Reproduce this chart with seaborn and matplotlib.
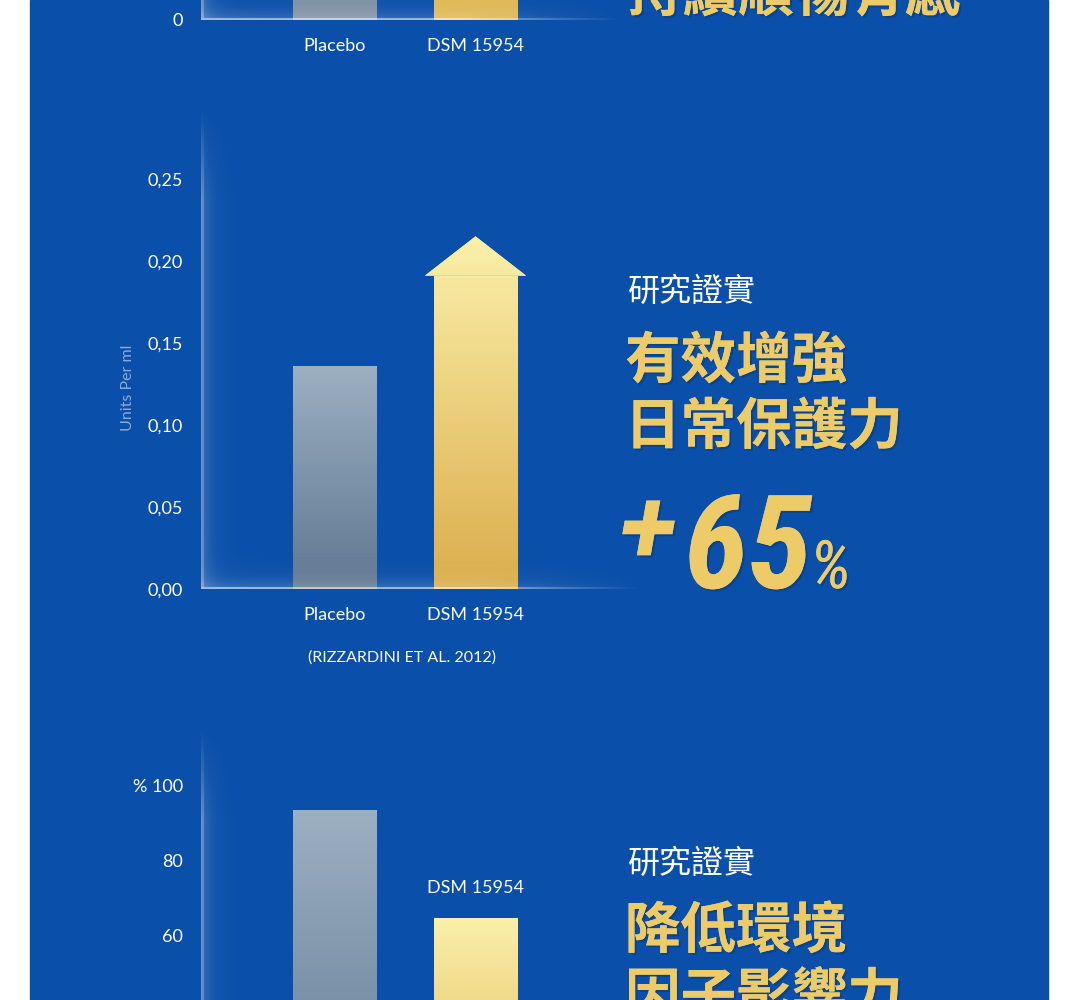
import numpy as np
import matplotlib.pyplot as plt
import seaborn as sns
from matplotlib.colors import LinearSegmentedColormap
from matplotlib.patches import Rectangle, Polygon
from matplotlib import patheffects

sns.set_style("white")
plt.rcParams['font.family'] = ['Lato', 'Noto Sans CJK TC', 'DejaVu Sans']

# ---- data ----
groups = ['Placebo', 'DSM 15954']
top_values = [1.6, 1.8]            # top chart: bars run past the top edge of the crop
mid_values = [0.136, 0.191]        # units per ml (DSM bar = arrow shaft)
mid_arrow_tip = 0.215
mid_ticks = [0.00, 0.05, 0.10, 0.15, 0.20, 0.25]
bottom_values = [93.3, 64.5]       # %
bottom_ticks = [60, 80, 100]       # lower ticks fall below the crop
bottom_tick_labels = ['60', '80', '% 100']

top_heading = '持續順暢有感'
kicker = '研究證實'
mid_heading = ['有效增強', '日常保護力']
mid_gain = '65'
bottom_heading = ['降低環境', '因子影響力']
citation = '(RIZZARDINI ET AL. 2012)'
mid_ylabel = 'Units Per ml'

# ---- look ----
W, H = 1080, 1000
BLUE = '#0a4fa9'
GOLD = '#edcb68'
gray_cmap = LinearSegmentedColormap.from_list('gray_bar', ['#5e7891', '#9dafc2'])
gold_cmap = LinearSegmentedColormap.from_list('gold_bar', ['#dbad4c', '#fbf0aa'])
# the top chart only shows the foot of much taller bars
gray_foot = LinearSegmentedColormap.from_list('gray_foot', ['#8090a4', '#93a3b6'])
gold_foot = LinearSegmentedColormap.from_list('gold_foot', ['#e0b756', '#ecd27c'])
gold_shadow = [patheffects.withSimplePatchShadow(offset=(1.5, -1.5), shadow_rgbFace='#052a66', alpha=0.35),
               patheffects.Normal()]
CJK = ['Noto Sans CJK TC', 'DejaVu Sans']
NARROW = ['Roboto Condensed', 'DejaVu Sans Condensed', 'Roboto', 'DejaVu Sans']

fig = plt.figure(figsize=(W / 100, H / 100), dpi=100)
fig.patch.set_facecolor('white')
fig.add_artist(Rectangle((30 / W, 0), 1018 / W, 1, transform=fig.transFigure,
                         color=BLUE, zorder=-10))


def px_axes(left, top, right, bottom):
    ax = fig.add_axes([left / W, 1 - bottom / H, (right - left) / W, (bottom - top) / H])
    ax.set_facecolor('none')
    return ax


# bar centres at x=334.5 and 475.5 px, 141 px apart
def x_limits(left, right):
    return (-(334.5 - left) / 141, (right - 334.5) / 141)


def fill_gradient(ax, patch, cmap, y_top=None, x_span=None):
    if x_span is None:
        x_span = (patch.get_x(), patch.get_x() + patch.get_width())
    if y_top is None:
        y_top = patch.get_y() + patch.get_height()
    grad = np.linspace(0, 1, 256).reshape(-1, 1)
    im = ax.imshow(grad, cmap=cmap, extent=[x_span[0], x_span[1], 0, y_top],
                   origin='lower', aspect='auto', interpolation='bicubic',
                   zorder=patch.get_zorder() + 0.1)
    im.set_clip_path(patch)


def glow(ax, fade_top=90, fade_right=170):
    bb = ax.get_window_extent()
    w, h = int(bb.width), int(bb.height)
    xx = np.arange(w)[None, :].astype(float)
    yy = np.arange(h)[:, None].astype(float)
    v = np.clip((h - yy) / fade_top, 0, 1)
    u = np.clip((w - xx) / fade_right, 0, 1)
    a = 0.20 * np.exp(-xx / 10) * v + 0.20 * np.exp(-yy / 9) * u
    a += 0.18 * (xx < 3) * v + 0.40 * (yy < 2) * u
    rgba = np.ones((h, w, 4))
    rgba[..., 3] = np.clip(a, 0, 0.6)
    ax.imshow(rgba, extent=[0, 1, 0, 1], transform=ax.transAxes, origin='lower',
              aspect='auto', interpolation='bilinear', zorder=4)


def style_axes(ax):
    sns.despine(ax=ax, left=True, bottom=True)
    ax.tick_params(axis='both', length=0, pad=13, labelsize=13, labelcolor='white')
    ax.set_xlabel('')
    ax.set_ylabel('')


def bars(ax, values, cmaps=(gray_cmap, gold_cmap)):
    sns.barplot(x=groups, y=values, hue=groups, palette=['#5e7891', '#dbad4c'],
                width=0.59, saturation=1, legend=False, linewidth=0, ax=ax)
    for patch, cmap in zip(ax.patches, cmaps):
        fill_gradient(ax, patch, cmap)


# ---- top chart (only its base is inside the crop) ----
ax1 = px_axes(201, -400, 620, 20)
bars(ax1, top_values, cmaps=(gray_foot, gold_foot))
style_axes(ax1)
ax1.set_yticks([0])
ax1.set_yticklabels(['0'])
glow(ax1)
ax1.set_xlim(*x_limits(201, 620))
ax1.set_ylim(0, 2)

# ---- middle chart ----
ax2 = px_axes(201, 110, 640, 589)
bars(ax2, mid_values)
shaft = ax2.patches[1]
sx0, sw = shaft.get_x(), shaft.get_width()
head_pad = 0.064
head = Polygon([(sx0 - head_pad, mid_values[1]), (sx0 + sw / 2, mid_arrow_tip),
                (sx0 + sw + head_pad, mid_values[1])], closed=True,
               facecolor='#fbf0aa', linewidth=0, zorder=shaft.get_zorder())
ax2.add_patch(head)
# re-fill the shaft and head with one gradient running up to the arrow tip
fill_gradient(ax2, shaft, gold_cmap, y_top=mid_arrow_tip,
              x_span=(sx0 - head_pad, sx0 + sw + head_pad))
fill_gradient(ax2, head, gold_cmap, y_top=mid_arrow_tip,
              x_span=(sx0 - head_pad, sx0 + sw + head_pad))
style_axes(ax2)
ax2.set_yticks(mid_ticks)
ax2.set_yticklabels([f'{t:.2f}'.replace('.', ',') for t in mid_ticks])
glow(ax2)
ax2.set_xlim(*x_limits(201, 640))
ax2.set_ylim(0, 0.292)

fig.text(128 / W, 1 - 388 / H, mid_ylabel, rotation=90, color='#8eaad4',
         fontsize=11.5, ha='center', va='center')
fig.text(402 / W, 1 - 658 / H, citation, color='white', fontsize=11.5,
         ha='center', va='center')

# ---- bottom chart (runs off the bottom edge) ----
ax3 = px_axes(201, 730, 640, 1160)
bars(ax3, bottom_values)
style_axes(ax3)
ax3.set_yticks(bottom_ticks)
ax3.set_yticklabels(bottom_tick_labels)
ax3.tick_params(axis='x', labelbottom=False)
ax3.text(1, bottom_values[1] + 8, groups[1], color='white', fontsize=13,
         ha='center', va='center')
glow(ax3)
ax3.set_xlim(*x_limits(201, 640))
ax3.set_ylim(0, 114.7)

# ---- headings on the right ----
fig.text(627 / W, 1 - (-5) / H, top_heading, family=CJK, fontsize=40, weight='bold',
         color=GOLD, va='center', path_effects=gold_shadow)

fig.text(628 / W, 1 - 292 / H, kicker, family=CJK, fontsize=23, color='white', va='center')
for line, y in zip(mid_heading, [362, 428]):
    fig.text(625 / W, 1 - y / H, line, family=CJK, fontsize=40, weight='bold',
             color=GOLD, va='center', path_effects=gold_shadow)

# "+65%": size the number to the width it has in the picture
renderer = fig.canvas.get_renderer()


def fit_width(txt, target):
    fs = txt.get_fontsize()
    txt.set_fontsize(fs * target / txt.get_window_extent(renderer).width)
    return txt.get_window_extent(renderer)


fig.text(620 / W, 1 - 534 / H, '+', family=['Roboto', 'DejaVu Sans'], fontsize=76,
         weight='bold', style='italic', color=GOLD, va='center', path_effects=gold_shadow)
gain = fig.text(684 / W, 1 - 588 / H, mid_gain, family=NARROW, fontsize=90, weight='bold',
                style='italic', color=GOLD, va='baseline', path_effects=gold_shadow)
gbox = fit_width(gain, 128)
fig.text((gbox.x1 - 2) / W, 1 - 588 / H, '%', family=NARROW, fontsize=48,
         style='italic', color=GOLD, va='baseline', path_effects=gold_shadow)

fig.text(628 / W, 1 - 864 / H, kicker, family=CJK, fontsize=23, color='white', va='center')
for line, y in zip(bottom_heading, [932, 998]):
    fig.text(625 / W, 1 - y / H, line, family=CJK, fontsize=40, weight='bold',
             color=GOLD, va='center', path_effects=gold_shadow)

fig.savefig('out.png', dpi=100, facecolor=fig.get_facecolor())
